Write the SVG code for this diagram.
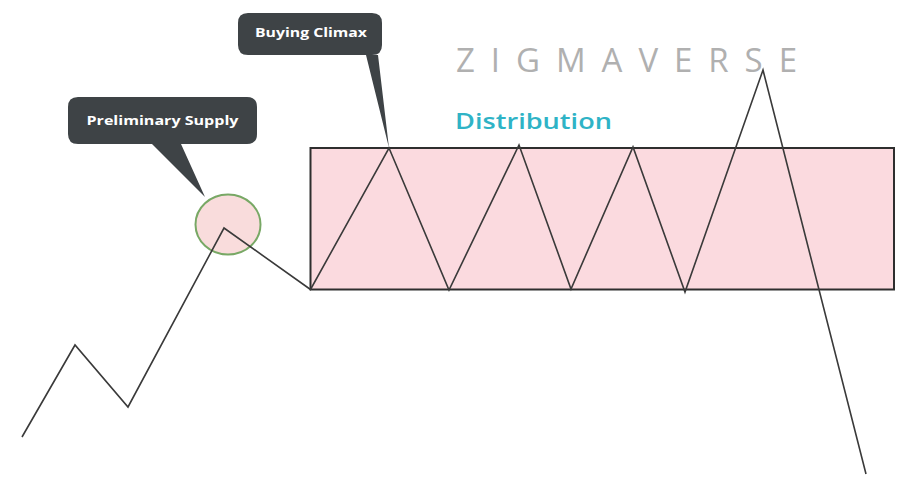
<svg xmlns="http://www.w3.org/2000/svg" width="902" height="477" viewBox="0 0 902 477">
  <style>
    .callout { fill: #3e4346; }
    .ctext { fill: #ffffff; font-family: "Open Sans", "DejaVu Sans", sans-serif; font-weight: 700; font-size: 12.5px; }
    .price { fill: none; stroke: #3a3a3a; stroke-width: 1.6; stroke-linejoin: miter; }
  </style>
  <rect width="902" height="477" fill="#ffffff"/>
  <g id="distribution-range">
    <rect x="310.5" y="148" width="583.5" height="141.5" fill="#fbdadf" stroke="#2e2e2e" stroke-width="2"/>
  </g>
  <g id="watermark">
    <text x="456" y="72" font-family="'Open Sans', 'DejaVu Sans', sans-serif" font-weight="400" font-size="33" fill="#b0b0b0" textLength="341" lengthAdjust="spacing">ZIGMAVERSE</text>
  </g>
  <g id="distribution-label">
    <text x="455" y="129" font-family="'Open Sans', 'DejaVu Sans', sans-serif" font-weight="600" font-size="21" fill="#2fb3c6" textLength="157" lengthAdjust="spacingAndGlyphs">Distribution</text>
  </g>
  <g id="preliminary-supply-circle">
    <ellipse cx="228" cy="224.5" rx="32.5" ry="30" fill="#f9dcdc" stroke="#78a865" stroke-width="2"/>
  </g>
  <g id="connectors">
    <polyline class="price" points="22,437 75,345 128,407 224,228 310.5,289.5 389,148 449,290 519,145 571,289 633,147 685,292 763,70 866,474"/>
  </g>
  <g id="preliminary-supply">
    <path class="callout" d="M78,97 H247 Q257,97 257,107 V134 Q257,144 247,144 H181 L205,197 L152,144 H78 Q68,144 68,134 V107 Q68,97 78,97 Z"/>
    <text class="ctext" x="162.5" y="125" text-anchor="middle" textLength="152" lengthAdjust="spacingAndGlyphs">Preliminary Supply</text>
  </g>
  <g id="buying-climax">
    <path class="callout" d="M248,13 H372 Q382,13 382,23 V45 Q382,55 372,55 H378 L389,148 L366,55 H248 Q238,55 238,45 V23 Q238,13 248,13 Z"/>
    <text class="ctext" x="311" y="37" text-anchor="middle" textLength="112" lengthAdjust="spacingAndGlyphs">Buying Climax</text>
  </g>
</svg>
